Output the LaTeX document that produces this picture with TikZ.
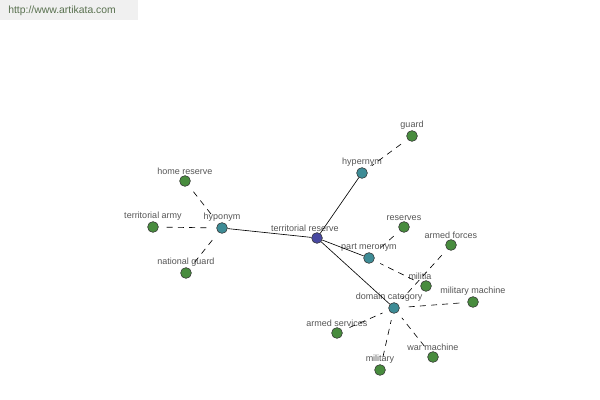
\documentclass[tikz,border=0pt]{standalone}
\usepackage{fontspec}
\setmainfont{Liberation Sans}
\usetikzlibrary{positioning}
\definecolor{rootblue}{RGB}{72,72,160}
\definecolor{reltea}{RGB}{62,140,150}
\definecolor{leafgreen}{RGB}{72,140,62}
\definecolor{labgray}{RGB}{85,85,85}
\definecolor{urlgreen}{RGB}{88,112,78}

\begin{document}
\begin{tikzpicture}[x=0.025cm,y=-0.025cm,
    dot/.style={circle,draw=black!80,line width=0.4pt,inner sep=0pt,minimum size=0.27cm,
      label distance=-1.5pt},
    root/.style={dot,fill=rootblue},
    rel/.style={dot,fill=reltea},
    leaf/.style={dot,fill=leafgreen},
    every label/.style={font=\fontsize{6.4}{7.5}\selectfont,text=labgray,inner sep=0.5pt},
    solidedge/.style={line width=0.45pt},
    dashedge/.style={line width=0.45pt,dash pattern=on 0.15cm off 0.13cm,
      shorten <=0.2cm,shorten >=0.17cm}]
        \useasboundingbox (0,0) rectangle (600,400);
        %Header
        \fill[black!6] (0,0) rectangle (138,20);
        \node[anchor=west,font=\fontsize{7.4}{9}\selectfont,text=urlgreen,inner sep=0pt] (url) at (8,11) {http://www.artikata.com};
        %Center and relations
        \node[root,label={[xshift=-0.3cm]above:territorial reserve}] (tr) at (317,238) {};
        \node[rel,label=above:hyponym] (hypo) at (222,228) {};
        \node[rel,label=above:hypernym] (hyper) at (362,173) {};
        \node[rel,label=above:part meronym] (part) at (369,258) {};
        \node[rel,label={[xshift=-0.12cm]above:domain category}] (dom) at (394,308) {};
        %Leaves
        \node[leaf,label=above:home reserve] (homeres) at (185,181) {};
        \node[leaf,label=above:territorial army] (terarmy) at (153,227) {};
        \node[leaf,label=above:national guard] (natguard) at (186,273) {};
        \node[leaf,label=above:guard] (guard) at (412,136) {};
        \node[leaf,label=above:reserves] (reserves) at (404,227) {};
        \node[leaf,label={[xshift=-0.15cm]above:militia}] (militia) at (426,286) {};
        \node[leaf,label=above:armed forces] (armforces) at (451,245) {};
        \node[leaf,label=above:military machine] (milmachine) at (473,302) {};
        \node[leaf,label=above:armed services] (armservices) at (337,333) {};
        \node[leaf,label=above:military] (military) at (380,370) {};
        \node[leaf,label=above:war machine] (warmachine) at (433,357) {};
        %Edges
        \draw[solidedge] (tr) -- (hypo);
        \draw[solidedge] (tr) -- (hyper);
        \draw[solidedge] (tr) -- (part);
        \draw[solidedge] (tr) -- (dom);
        \draw[dashedge] (homeres) -- (hypo);
        \draw[dashedge] (terarmy) -- (hypo);
        \draw[dashedge] (natguard) -- (hypo);
        \draw[dashedge] (guard) -- (hyper);
        \draw[dashedge] (reserves) -- (part);
        \draw[dashedge] (militia) -- (part);
        \draw[dashedge] (armforces) -- (dom);
        \draw[dashedge] (milmachine) -- (dom);
        \draw[dashedge] (armservices) -- (dom);
        \draw[dashedge] (military) -- (dom);
        \draw[dashedge] (warmachine) -- (dom);
\end{tikzpicture}
\end{document}
